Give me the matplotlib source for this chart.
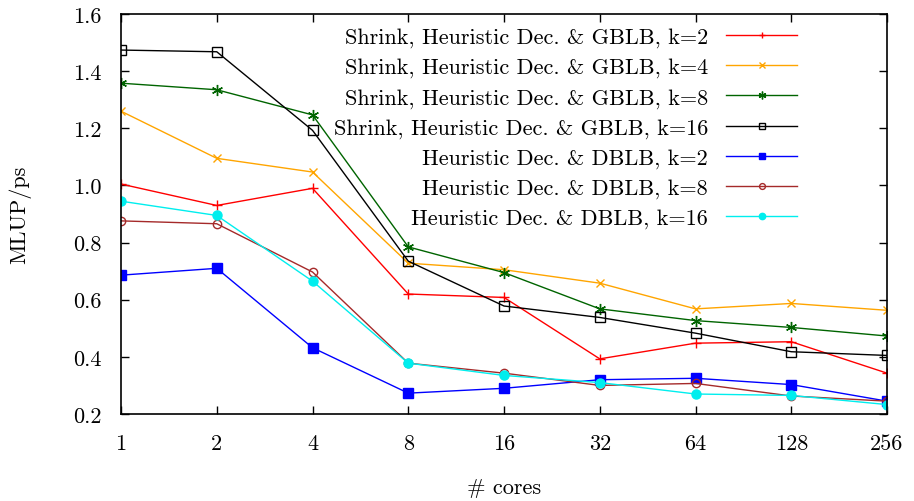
import numpy as np
import matplotlib
matplotlib.use("Agg")
import matplotlib.pyplot as plt

plt.rcParams["font.family"] = ["cmr10", "DejaVu Serif"]
plt.rcParams["mathtext.fontset"] = "cm"
plt.rcParams["axes.unicode_minus"] = False
plt.rcParams["axes.formatter.use_mathtext"] = True

cores = ["1", "2", "4", "8", "16", "32", "64", "128", "256"]

shrink_k2 = [1.005, 0.930, 0.990, 0.620, 0.608, 0.393, 0.448, 0.453, 0.343]
shrink_k4 = [1.260, 1.095, 1.047, 0.728, 0.705, 0.658, 0.568, 0.587, 0.563]
shrink_k8 = [1.358, 1.335, 1.247, 0.785, 0.695, 0.568, 0.527, 0.503, 0.473]
shrink_k16 = [1.474, 1.468, 1.193, 0.735, 0.578, 0.538, 0.483, 0.418, 0.405]
dblb_k2 = [0.686, 0.710, 0.432, 0.273, 0.290, 0.320, 0.325, 0.303, 0.245]
dblb_k8 = [0.876, 0.866, 0.697, 0.378, 0.343, 0.300, 0.307, 0.263, 0.245]
dblb_k16 = [0.945, 0.895, 0.665, 0.378, 0.335, 0.310, 0.270, 0.265, 0.233]

series = [
    ("Shrink, Heuristic Dec. & GBLB, k=2", shrink_k2, "#ff0000", "+", "none", 7),
    ("Shrink, Heuristic Dec. & GBLB, k=4", shrink_k4, "#ffa500", "x", "none", 6),
    ("Shrink, Heuristic Dec. & GBLB, k=8", shrink_k8, "#006400", (6, 2, 0), "none", 8),
    ("Shrink, Heuristic Dec. & GBLB, k=16", shrink_k16, "#000000", "s", "none", 6.5),
    ("Heuristic Dec. & DBLB, k=2", dblb_k2, "#0000ff", "s", "#0000ff", 7),
    ("Heuristic Dec. & DBLB, k=8", dblb_k8, "#a52a2a", "o", "none", 6),
    ("Heuristic Dec. & DBLB, k=16", dblb_k16, "#00eeee", "o", "#00eeee", 6.5),
]

fig = plt.figure(figsize=(9.14, 5.02), dpi=100)
ax = fig.add_axes([0.1324, 0.1733, 0.9705 - 0.1324, 0.970 - 0.1733])

x = np.arange(len(cores))
for label, vals, color, marker, face, ms in series:
    ax.plot(x, vals, color=color, lw=1.0, marker=marker, markersize=ms,
            markerfacecolor=face, markeredgecolor=color, markeredgewidth=1.0,
            label=label)

ax.set_xlim(0, len(cores) - 1)
ax.set_ylim(0.2, 1.6)
ax.set_xticks(x)
ax.set_xticklabels(cores)
ax.set_yticks(np.arange(0.2, 1.61, 0.2))
ax.set_yticklabels([f"{v:.1f}" for v in np.arange(0.2, 1.61, 0.2)])
ax.tick_params(direction="in", top=True, right=True, length=6, width=1,
               labelsize=16)
ax.tick_params(axis="y", pad=14)
ax.tick_params(axis="x", pad=14)
for s in ax.spines.values():
    s.set_linewidth(1.2)

ax.set_xlabel("# cores", fontsize=16, labelpad=18)
ax.set_ylabel("MLUP/ps", fontsize=16, labelpad=30)

leg = ax.legend(loc="upper right", frameon=False, markerfirst=False,
                fontsize=16, handlelength=3.2, labelspacing=0.46,
                borderaxespad=0.2, handletextpad=0.8, markerscale=0.7,
                bbox_to_anchor=(0.9, 1.0))

fig.savefig("out.png", dpi=100)
